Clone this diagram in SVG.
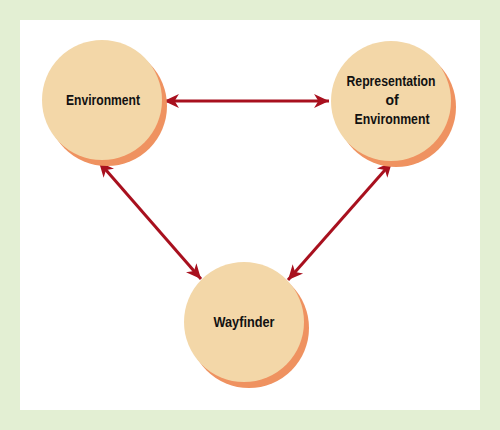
<svg xmlns="http://www.w3.org/2000/svg" width="500" height="430" viewBox="0 0 500 430">
<style>
.sh{fill:#EF9260}
.c{fill:#F3D7A8}
.t{font-family:"Liberation Sans",Arial,sans-serif;font-weight:bold;font-size:14px;fill:#111111;text-anchor:middle}
.a{stroke:#A8101E;stroke-width:3;fill:none;marker-start:url(#ah);marker-end:url(#ah)}
</style>
<defs>
<marker id="ah" markerUnits="userSpaceOnUse" markerWidth="16" markerHeight="16" viewBox="0 -7 15 14" refX="14" refY="0" orient="auto-start-reverse">
<path d="M0,-6.5 L14,0 L0,6.5 L4,0 Z" fill="#A8101E"/>
</marker>
</defs>
<rect width="500" height="430" fill="#E3EFD3"/>
<rect x="20" y="20" width="460" height="390" fill="#FFFFFF"/>
<g id="connectors">
<line class="a" x1="164" y1="101" x2="329" y2="101"/>
<line class="a" x1="99" y1="162" x2="201" y2="279"/>
<line class="a" x1="392" y1="162" x2="288" y2="280"/>
</g>
<g id="environment">
<circle class="sh" cx="107" cy="106" r="60"/>
<circle class="c" cx="102" cy="100" r="60"/>
<text class="t" x="103" y="105" textLength="74" lengthAdjust="spacingAndGlyphs">Environment</text>
</g>
<g id="representation">
<circle class="sh" cx="396" cy="107" r="60"/>
<circle class="c" cx="391" cy="101" r="60"/>
<text class="t" x="391" y="86" textLength="89" lengthAdjust="spacingAndGlyphs">Representation</text>
<text class="t" x="392" y="105">of</text>
<text class="t" x="392" y="124" textLength="75" lengthAdjust="spacingAndGlyphs">Environment</text>
</g>
<g id="wayfinder">
<circle class="sh" cx="249" cy="328" r="60"/>
<circle class="c" cx="244" cy="322" r="60"/>
<text class="t" x="244" y="327" textLength="61" lengthAdjust="spacingAndGlyphs">Wayfinder</text>
</g>
</svg>
